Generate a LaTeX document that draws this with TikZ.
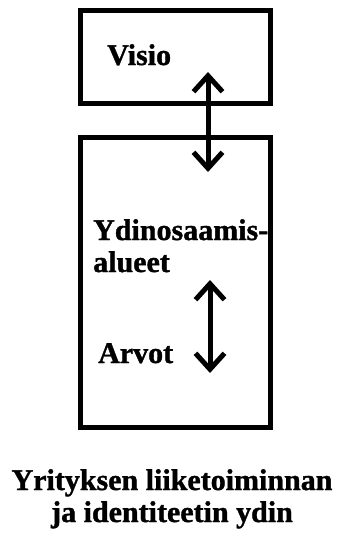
\documentclass[tikz,border=0pt]{standalone}
\usepackage{fontspec}
\setmainfont[BoldFeatures={FakeBold=1.2}]{Liberation Serif}
\usetikzlibrary{arrows.meta}
\tikzset{
  frame/.style={draw=black, line width=5pt, inner sep=0pt, rectangle},
  label/.style={font=\fontsize{30}{32}\selectfont\bfseries, inner sep=0pt, anchor=base west},
  title/.style={font=\fontsize{30}{32}\selectfont\bfseries, inner sep=0pt, anchor=base},
  link/.style={line width=5pt,
    {Straight Barb[length=16pt,width=29pt]}-{Straight Barb[length=16pt,width=29pt]}}
}
\begin{document}
\begin{tikzpicture}[x=1pt, y=-1pt]
  \useasboundingbox (0,0) rectangle (337,541);
  % boxes
  \node[frame, minimum width=190pt, minimum height=93pt] (visiobox) at (175,57) {};
  \node[frame, minimum width=190pt, minimum height=290pt] (corebox) at (175,282.5) {};
  % labels
  \node[label] (visio) at (107,65) {Visio};
  \node[label] (ydin1) at (93,240) {Ydinosaamis-};
  \node[label] (ydin2) at (93,272) {alueet};
  \node[label] (arvot) at (98,363) {Arvot};
  \node[title] (cap1) at (172,490) {Yrityksen liiketoiminnan};
  \node[title] (cap2) at (172,522) {ja identiteetin ydin};
  % double arrows
  \coordinate (a1top) at (208,72);
  \coordinate (a1bot) at (208,172);
  \coordinate (a2top) at (210,280);
  \coordinate (a2bot) at (210,373);
  \draw[link] (a1top) -- (a1bot);
  \draw[link] (a2top) -- (a2bot);
\end{tikzpicture}
\end{document}
